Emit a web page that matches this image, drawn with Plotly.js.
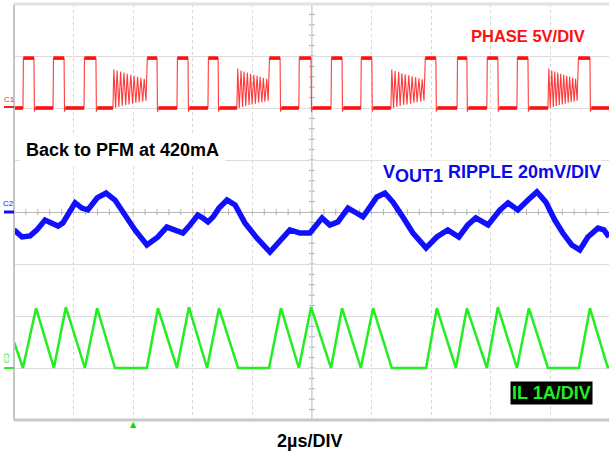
<!DOCTYPE html>
<html>
<head>
<meta charset="utf-8">
<script src="https://cdn.plot.ly/plotly-3.0.1.min.js"></script>
<style>html,body{margin:0;padding:0;background:#fff;}#plot{width:609px;height:455px;}</style>
</head>
<body>
<div id="plot"></div>
<script>
// ---- DATA (time in µs, 2 µs/div) ----
// PHASE (V): rise / fall times of each switching pulse
const phaseRise = [0.30, 1.31, 2.35, 4.46, 5.47, 6.51, 8.56, 9.56, 10.64, 11.64, 13.79, 14.87, 15.87, 16.88, 18.93];
const phaseFall = [0.67, 1.68, 2.75, 4.80, 5.84, 6.85, 8.93, 9.97, 11.01, 12.01, 14.16, 15.20, 16.24, 17.25, 19.33];
const phaseHigh = 4.8, phaseLow = 0, phaseDip = -0.35;
// PHASE ringing bursts (DCM idle), times and volts
const ring1T = [3.32, 3.35, 3.41, 3.46, 3.52, 3.58, 3.63, 3.69, 3.75, 3.80, 3.86, 3.92, 3.98, 4.03, 4.09, 4.15, 4.20, 4.26, 4.32, 4.37, 4.43];
const ring1V = [0, 3.7, 0.0, 3.6, 0.1, 3.5, 0.2, 3.4, 0.3, 3.3, 0.35, 3.2, 0.4, 3.1, 0.5, 3.0, 0.55, 2.9, 0.6, 2.8, 0.7];
const ring2T = [7.48, 7.51, 7.56, 7.62, 7.67, 7.72, 7.78, 7.83, 7.89, 7.94, 7.99, 8.05, 8.10, 8.16, 8.21, 8.26, 8.32, 8.37, 8.42, 8.48, 8.53];
const ring2V = [0, 3.8, 0.0, 3.6, 0.1, 3.5, 0.2, 3.4, 0.3, 3.3, 0.35, 3.2, 0.4, 3.1, 0.5, 3.0, 0.55, 2.9, 0.6, 2.8, 0.7];
const ring3T = [12.65, 12.68, 12.74, 12.79, 12.85, 12.91, 12.96, 13.02, 13.08, 13.13, 13.19, 13.25, 13.31, 13.36, 13.42, 13.48, 13.53, 13.59, 13.65, 13.70, 13.76];
const ring3V = [0, 3.7, 0.0, 3.55, 0.1, 3.45, 0.2, 3.35, 0.3, 3.25, 0.35, 3.15, 0.4, 3.05, 0.5, 2.95, 0.55, 2.85, 0.6, 2.75, 0.7];
const ring4T = [17.92, 17.95, 18.00, 18.05, 18.10, 18.15, 18.20, 18.25, 18.30, 18.35, 18.40, 18.45, 18.50, 18.55, 18.60, 18.65, 18.70, 18.75, 18.80, 18.85, 18.90];
const ring4V = [0, 3.8, 0.0, 3.6, 0.1, 3.5, 0.2, 3.4, 0.3, 3.3, 0.35, 3.2, 0.4, 3.1, 0.5, 3.0, 0.55, 2.9, 0.6, 2.8, 0.7];

// VOUT1 ripple (mV)
const voutT = [0, 0.27, 0.54, 0.77, 1.04, 1.21, 1.48, 1.64, 2.05, 2.28, 2.48, 2.79, 3.09, 3.39, 3.72, 4.06, 4.46, 4.83, 5.13, 5.40, 5.67, 5.91, 6.17, 6.34, 6.51, 6.68, 6.88, 7.15, 7.42, 7.75, 8.15, 8.59, 8.93, 9.26, 9.60, 9.93, 10.34, 10.60, 10.87, 11.21, 11.44, 11.71, 11.88, 12.18, 12.45, 12.72, 13.05, 13.39, 13.83, 14.19, 14.56, 14.93, 15.23, 15.50, 15.91, 16.31, 16.58, 16.91, 17.25, 17.55, 17.85, 18.15, 18.42, 18.72, 18.99, 19.26, 19.60, 19.80, 19.97];
const voutMV = [-6.9, -9.6, -9.2, -6.9, -3.1, -4.2, -5.4, -4.2, 3.5, 1.5, 0.8, 5.4, 7.3, 4.6, -1.2, -6.9, -12.7, -9.6, -5.8, -6.9, -8.1, -5.0, -1.2, -2.3, -3.8, -1.9, 1.5, 4.6, 2.7, -4.2, -10.0, -15.4, -10.8, -6.9, -8.1, -8.1, -2.3, -5.0, -3.8, 1.5, 0, -1.9, 0.8, 5.8, 7.3, 3.8, -1.9, -8.1, -13.8, -9.6, -6.9, -9.6, -5.0, -2.3, -5.0, 0.8, 3.5, 0.8, 4.6, 7.7, 3.8, -3.1, -8.1, -12.7, -14.6, -9.6, -6.2, -6.9, -9.6];

// Inductor current IL (A)
const ilT = [0, 0.30, 0.74, 1.34, 1.74, 2.38, 2.79, 3.39, 4.46, 4.83, 5.47, 5.87, 6.48, 6.88, 7.52, 8.56, 8.96, 9.56, 9.97, 10.64, 11.01, 11.64, 12.05, 12.68, 13.83, 14.19, 14.83, 15.20, 15.87, 16.24, 16.88, 17.28, 17.92, 18.96, 19.33, 19.93, 19.97];
const ilA = [0.5, 0, 1.15, 0, 1.17, 0, 1.15, 0, 0, 1.15, 0, 1.17, 0, 1.15, 0, 0, 1.15, 0, 1.17, 0, 1.15, 0, 1.15, 0, 0, 1.15, 0, 1.15, 0, 1.17, 0, 1.15, 0, 0, 1.15, 0, 0.05];

// channel scales (units/div) and screen offsets (div)
const phaseScale = 5, phaseOffset = 2;
const voutScale = 20, voutOffset = 0;
const ilScale = 1, ilOffset = -3;

// ---- build phase waveform from edge times + ringing ----
const rings = [[ring1T, ring1V], [ring2T, ring2V], [ring3T, ring3V], [ring4T, ring4V]];
const pT = [0], pV = [phaseLow];
// plateau segments (drawn thicker, like the noisy scope trace)
const qT = [0], qV = [phaseLow];
let prevFall = -1;
for (let i = 0; i < phaseRise.length; i++) {
  const r = rings.find(g => g[0][0] > prevFall && g[0][0] < phaseRise[i]);
  if (r) {
    qT.push(r[0][0], null); qV.push(phaseLow, null);
    r[0].forEach((t, k) => { pT.push(t); pV.push(r[1][k]); });
  } else {
    qT.push(phaseRise[i], null); qV.push(phaseLow, null);
    pT.push(phaseRise[i]); pV.push(phaseLow);
  }
  pT.push(phaseRise[i] + 0.015, phaseFall[i], phaseFall[i] + 0.015, phaseFall[i] + 0.05);
  pV.push(phaseHigh, phaseHigh, phaseDip, phaseLow);
  qT.push(phaseRise[i] + 0.015, phaseFall[i], null, phaseFall[i] + 0.05);
  qV.push(phaseHigh, phaseHigh, null, phaseLow);
  prevFall = phaseFall[i];
}
pT.push(19.97); pV.push(phaseLow);
qT.push(19.97); qV.push(phaseLow);

const toDiv = (arr, off, sc) => arr.map(v => v === null ? null : off + v / sc);

const traces = [
  {x: pT, y: toDiv(pV, phaseOffset, phaseScale), type: 'scatter', mode: 'lines',
   line: {color: '#ff3a3a', width: 1.1}, hoverinfo: 'skip'},
  {x: qT, y: toDiv(qV, phaseOffset, phaseScale), type: 'scatter', mode: 'lines', connectgaps: false,
   line: {color: '#ff1010', width: 3.6}, hoverinfo: 'skip'},
  {x: voutT, y: toDiv(voutMV, voutOffset, voutScale), type: 'scatter', mode: 'lines',
   line: {color: '#1010ff', width: 5.5}, hoverinfo: 'skip'},
  {x: ilT, y: toDiv(ilA, ilOffset, ilScale), type: 'scatter', mode: 'lines',
   line: {color: '#22ee22', width: 2.5}, hoverinfo: 'skip'}
];

// ---- decorations ----
const L = 14, T = 4, B = 420, W = 595, H = 416;
const px = x => (x - L) / W, py = y => (B - y) / H;
const shapes = [];
shapes.push({type: 'line', xref: 'x', yref: 'y', x0: 10, x1: 10, y0: -4, y1: 4, line: {color: '#b8b8b8', width: 1}, layer: 'below'});
for (let k = 0; k <= 50; k++) {
  const t = k * 0.4;
  shapes.push({type: 'line', xref: 'x', yref: 'y', x0: t, x1: t, y0: -0.06, y1: 0.06, line: {color: '#b0b0b0', width: 1}, layer: 'below'});
}
for (let k = 0; k <= 40; k++) {
  const v = -4 + k * 0.2;
  shapes.push({type: 'line', xref: 'x', yref: 'y', x0: 9.9, x1: 10.1, y0: v, y1: v, line: {color: '#b0b0b0', width: 1}, layer: 'below'});
}
shapes.push({type: 'line', xref: 'paper', yref: 'paper', x0: 0, x1: 0, y0: 0, y1: 1, line: {color: '#c4c4c4', width: 2}});
shapes.push({type: 'line', xref: 'paper', yref: 'paper', x0: 0, x1: 1, y0: 1, y1: 1, line: {color: '#e2e2e2', width: 3}});
shapes.push({type: 'line', xref: 'paper', yref: 'paper', x0: 0, x1: 1, y0: 0, y1: 0, line: {color: '#c8c8c8', width: 3}});
shapes.push({type: 'line', xref: 'paper', yref: 'paper', x0: px(4), x1: px(14), y0: py(107), y1: py(107), line: {color: '#ff1a1a', width: 2}});
shapes.push({type: 'line', xref: 'paper', yref: 'paper', x0: px(4), x1: px(14), y0: py(212), y1: py(212), line: {color: '#1010ff', width: 3}});
shapes.push({type: 'line', xref: 'paper', yref: 'paper', x0: px(4), x1: px(14), y0: py(368), y1: py(368), line: {color: '#22ee22', width: 2}});

const F = 'Liberation Sans, Arial, sans-serif';
const annotations = [
  {xref: 'paper', yref: 'paper', x: px(528), y: py(36), xanchor: 'center', yanchor: 'middle', showarrow: false,
   text: '<b>PHASE 5V/DIV</b>', font: {family: F, size: 16.5, color: '#ff1010'}},
  {xref: 'paper', yref: 'paper', x: px(122), y: py(150), xanchor: 'center', yanchor: 'middle', showarrow: false,
   text: '<b>Back to PFM at 420mA</b>', font: {family: F, size: 18, color: '#000000'}, bgcolor: '#ffffff', borderpad: 6},
  {xref: 'paper', yref: 'paper', x: px(492), y: py(174), xanchor: 'center', yanchor: 'middle', showarrow: false,
   text: "<b>V<sub><span style='font-size:18px'>OUT1</span></sub> RIPPLE 20mV/DIV</b>", font: {family: F, size: 18, color: '#0a0aee'}, bgcolor: '#ffffff', borderpad: 1},
  {xref: 'paper', yref: 'paper', x: px(551), y: py(393), xanchor: 'center', yanchor: 'middle', showarrow: false,
   text: '<b>IL 1A/DIV</b>', font: {family: F, size: 18, color: '#22ee22'}, bgcolor: '#000000', borderpad: 1},
  {xref: 'paper', yref: 'paper', x: px(309), y: py(441), xanchor: 'center', yanchor: 'middle', showarrow: false,
   text: '<b>2µs/DIV</b>', font: {family: F, size: 18, color: '#000000'}},
  {xref: 'paper', yref: 'paper', x: px(9), y: py(100), xanchor: 'center', yanchor: 'middle', showarrow: false,
   text: 'C1', font: {family: F, size: 8, color: '#ff1a1a'}},
  {xref: 'paper', yref: 'paper', x: px(8), y: py(204), xanchor: 'center', yanchor: 'middle', showarrow: false,
   text: 'C2', font: {family: F, size: 8, color: '#1010ff'}},
  {xref: 'paper', yref: 'paper', x: px(7), y: py(358), xanchor: 'center', yanchor: 'middle', showarrow: false, textangle: 90,
   text: 'C3', font: {family: F, size: 8, color: '#22ee22'}},
  {xref: 'paper', yref: 'paper', x: px(133.5), y: py(424), xanchor: 'center', yanchor: 'middle', showarrow: false,
   text: '▲', font: {family: 'DejaVu Sans', size: 8, color: '#00dd00'}}
];

const layout = {
  width: 609, height: 455,
  margin: {l: L, r: 0, t: T, b: 455 - B, pad: 0},
  paper_bgcolor: '#ffffff', plot_bgcolor: '#ffffff',
  showlegend: false,
  xaxis: {range: [0, 19.97], dtick: 2, tick0: 0, showgrid: true, gridcolor: '#d6d6d6', griddash: '3px,3px', gridwidth: 1,
          zeroline: false, showline: false, showticklabels: false, ticks: '', fixedrange: true},
  yaxis: {range: [-4, 4], dtick: 1, tick0: 0, showgrid: true, gridcolor: '#dcdcdc', gridwidth: 1,
          zeroline: true, zerolinecolor: '#b8b8b8', zerolinewidth: 1, showline: false, showticklabels: false, ticks: '', fixedrange: true},
  shapes: shapes,
  annotations: annotations
};

Plotly.newPlot('plot', traces, layout, {staticPlot: true, displayModeBar: false});
</script>
</body>
</html>
